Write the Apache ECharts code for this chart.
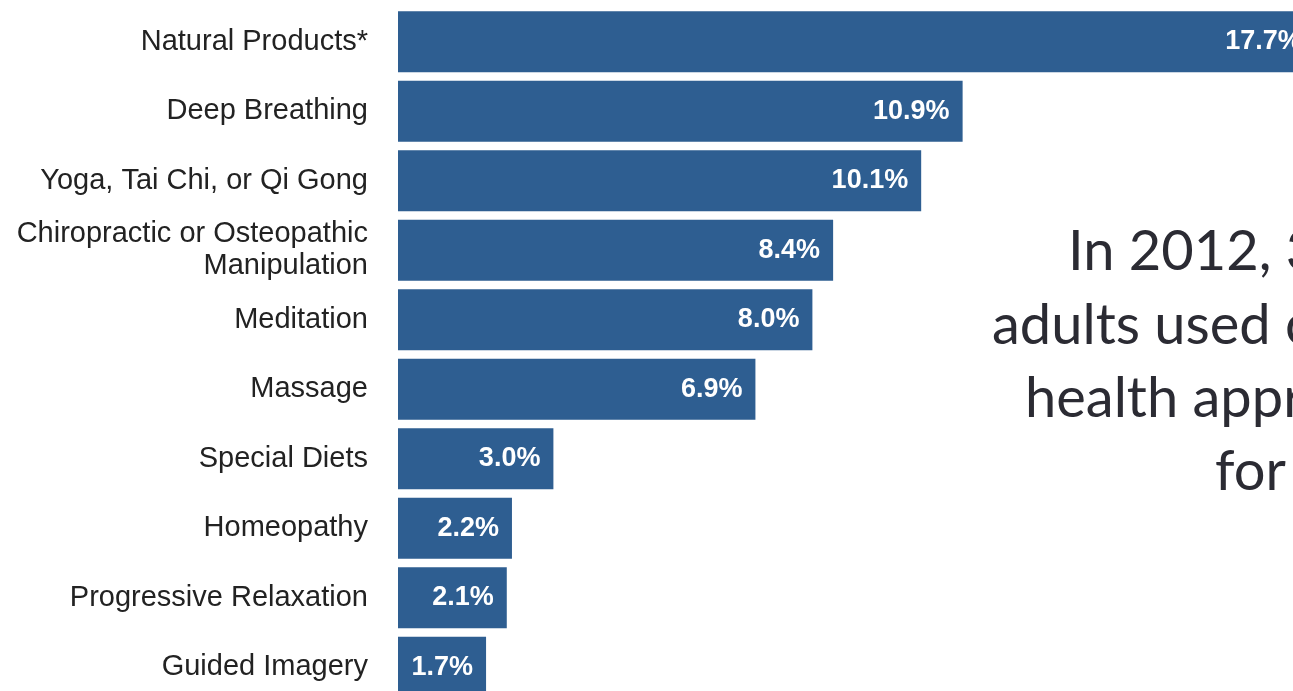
<!DOCTYPE html>
<html>
<head>
<meta charset="utf-8">
<title>Complementary health approaches, 2012</title>
<script src="https://cdn.jsdelivr.net/npm/echarts@6/dist/echarts.min.js"></script>
<style>
  html, body { margin: 0; padding: 0; background: #ffffff; overflow: hidden; width: 1293px; height: 691px; }
  /* the drawing surface runs past the window's right and bottom edges */
  #chart { width: 1434px; height: 702px; }
</style>
</head>
<body>
<div id="chart"></div>
<script>
// Approaches, top to bottom
const categories = [
  'Natural Products*',
  'Deep Breathing',
  'Yoga, Tai Chi, or Qi Gong',
  'Chiropractic or Osteopathic\nManipulation',
  'Meditation',
  'Massage',
  'Special Diets',
  'Homeopathy',
  'Progressive Relaxation',
  'Guided Imagery'
];

// Percent of adults using each approach
const usagePercent = [17.7, 10.9, 10.1, 8.4, 8.0, 6.9, 3.0, 2.2, 2.1, 1.7];

// Side caption lines
const captionLines = [
  'In 2012, 33.2% of U.S.',
  'adults used complementary',
  'health approaches',
  'for pain'
];

const chart = echarts.init(document.getElementById('chart'), null, { renderer: 'canvas' });

const captionX = [1068, 992, 1025, 1215];
const captionY = [258, 332, 405, 478];

const labelFont = '"Liberation Sans", Arial, Helvetica, sans-serif';

const option = {
  animation: false,
  backgroundColor: '#ffffff',
  grid: { left: 398, top: 7, width: 1036, height: 695, containLabel: false },
  xAxis: {
    type: 'value',
    min: 0,
    max: 20,
    show: false
  },
  yAxis: {
    type: 'category',
    data: categories,
    inverse: true,
    axisLine: { show: false },
    axisTick: { show: false },
    splitLine: { show: false },
    axisLabel: {
      margin: 30,
      color: '#222222',
      fontFamily: labelFont,
      fontSize: 29,
      lineHeight: 32,
      align: 'right'
    }
  },
  series: [{
    type: 'bar',
    data: usagePercent,
    barCategoryGap: '12%',
    itemStyle: { color: '#2e5e91' },
    label: {
      show: true,
      position: 'insideRight',
      distance: 13,
      color: '#ffffff',
      fontFamily: labelFont,
      fontWeight: 'bold',
      fontSize: 27,
      formatter: p => p.value.toFixed(1) + '%'
    }
  }],
  graphic: captionLines.map((t, i) => ({
    type: 'text',
    left: captionX[i],
    top: captionY[i] - 34,
    style: {
      text: t,
      fill: '#2b2b33',
      font: '56px Lato'
    }
  }))
};

chart.setOption(option);
</script>
</body>
</html>
